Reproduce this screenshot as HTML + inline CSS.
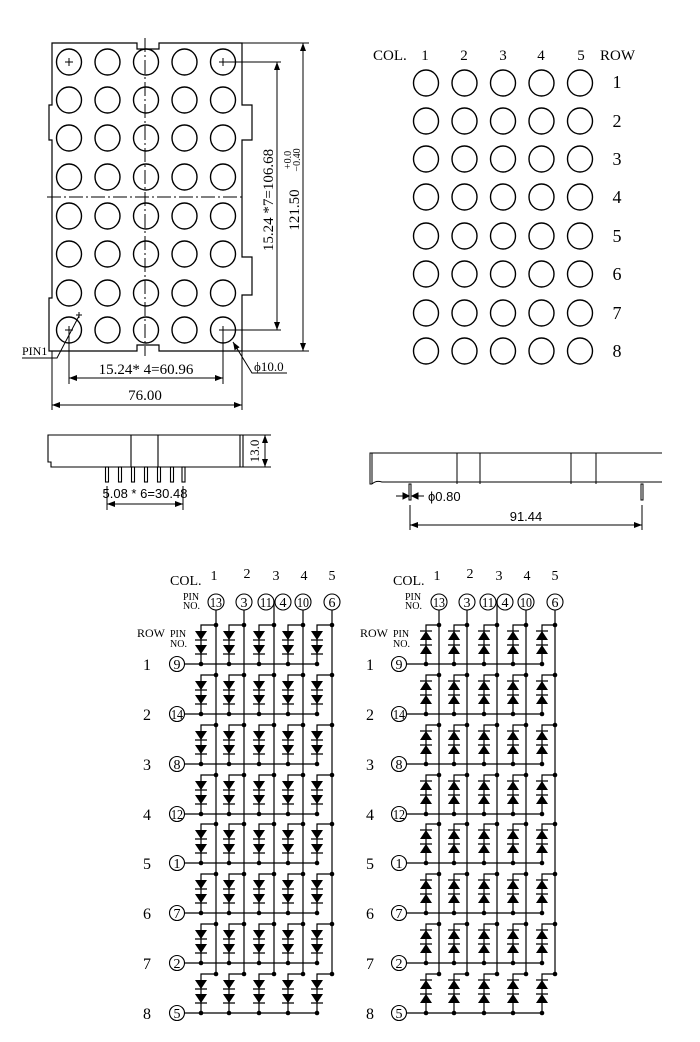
<!DOCTYPE html>
<html><head><meta charset="utf-8"><style>
html,body{margin:0;padding:0;background:#fff;}
svg{display:block;font-family:"Liberation Serif",serif;}
text{fill:#000;}
</style></head><body>
<svg width="700" height="1042" viewBox="0 0 700 1042" xmlns="http://www.w3.org/2000/svg">
<defs>
<marker id="ar" markerWidth="8" markerHeight="6" refX="8" refY="3" orient="auto-start-reverse" markerUnits="userSpaceOnUse"><path d="M0,0 L8,3 L0,6 z" fill="#000"/></marker>
<g id="cl">
<circle cx="0" cy="-39" r="2.3" fill="#000"/>
<path d="M0,-39 H-15 V0" fill="none" stroke="#000" stroke-width="1.2"/>
<path d="M-21,-33 H-9 L-15,-24 z M-21,-19 H-9 L-15,-10 z" fill="#000"/>
<path d="M-21,-24 H-9 M-21,-10 H-9" stroke="#000" stroke-width="1.2"/>
<circle cx="-15" cy="0" r="2.3" fill="#000"/>
</g>
<g id="cr">
<circle cx="0" cy="-39" r="2.3" fill="#000"/>
<path d="M0,-39 H-13 V0" fill="none" stroke="#000" stroke-width="1.2"/>
<path d="M-19,-24 H-7 L-13,-33 z M-19,-10 H-7 L-13,-19 z" fill="#000"/>
<path d="M-19,-33 H-7 M-19,-19 H-7" stroke="#000" stroke-width="1.2"/>
<circle cx="-13" cy="0" r="2.3" fill="#000"/>
</g>
<g id="rowL"><use href="#cl" x="216"/><use href="#cl" x="244"/><use href="#cl" x="274"/><use href="#cl" x="303"/><use href="#cl" x="332"/><line x1="184" y1="0" x2="319" y2="0" stroke="#000" stroke-width="1.2"/></g>
<g id="rowR"><use href="#cr" x="439"/><use href="#cr" x="467"/><use href="#cr" x="497"/><use href="#cr" x="526"/><use href="#cr" x="555"/><line x1="406" y1="0" x2="544" y2="0" stroke="#000" stroke-width="1.2"/></g>
<g id="c5"><ellipse cx="0" cy="0" rx="12.5" ry="13" fill="none" stroke="#000" stroke-width="1.4"/></g>
<g id="r5"><use href="#c5" x="0"/><use href="#c5" x="38.5"/><use href="#c5" x="77"/><use href="#c5" x="115.5"/><use href="#c5" x="154"/></g>
</defs>

<!-- Top left front view -->
<g fill="none" stroke="#000" stroke-width="1.2">
<path d="M52,43 H137 V49 H159 V43 H242 V105 H252 V140 H242 V257 H252 V295 H242 V351 H159 V345 H137 V351 H49 V298 H52 V140 H49 V105 H52 Z"/>
</g>
<g stroke="#000" stroke-width="1" stroke-dasharray="14,3,2,3">
<line x1="145" y1="38" x2="145" y2="356"/>
<line x1="47" y1="197" x2="245" y2="197"/>
</g>
<use href="#r5" x="69" y="62"/><use href="#r5" x="69" y="100"/><use href="#r5" x="69" y="138"/><use href="#r5" x="69" y="177"/>
<use href="#r5" x="69" y="216"/><use href="#r5" x="69" y="254"/><use href="#r5" x="69" y="293"/><use href="#r5" x="69" y="330"/>
<g stroke="#000" stroke-width="1">
<path d="M65,62 h8 M69,58 v8 M219,62 h8 M223,58 v8 M65,330 h8 M69,326 v8 M219,330 h8 M223,326 v8 M76,315 h6 M79,312 v6"/>
<path d="M223,62 H281 M223,330 H281 M242,43 H309 M242,351 H309" fill="none"/>
<line x1="277" y1="62" x2="277" y2="330" marker-start="url(#ar)" marker-end="url(#ar)"/>
<line x1="303" y1="43" x2="303" y2="351" marker-start="url(#ar)" marker-end="url(#ar)"/>
<path d="M69,330 V384 M223,330 V384 M52,351 V410 M242,351 V410" fill="none"/>
<line x1="69" y1="378" x2="223" y2="378" marker-start="url(#ar)" marker-end="url(#ar)"/>
<line x1="52" y1="405" x2="242" y2="405" marker-start="url(#ar)" marker-end="url(#ar)"/>
<path d="M22,358 H57 L79,316" fill="none"/>
<path d="M287,373 H252 L233,342" fill="none" marker-end="url(#ar)"/>
</g>
<text x="0" y="0" font-size="15" transform="translate(273,200) rotate(-90)" text-anchor="middle">15.24 *7=106.68</text>
<text x="0" y="0" font-size="15" transform="translate(299,210) rotate(-90)" text-anchor="middle">121.50</text>
<text x="0" y="0" font-size="10" transform="translate(291,160) rotate(-90)" text-anchor="middle">+0.0</text>
<text x="0" y="0" font-size="10" transform="translate(300,160) rotate(-90)" text-anchor="middle">−0.40</text>
<text x="146" y="374" font-size="15" text-anchor="middle">15.24* 4=60.96</text>
<text x="145" y="400" font-size="15" text-anchor="middle">76.00</text>
<text x="22" y="355" font-size="12">PIN1</text>
<text x="254" y="371" font-size="13">ϕ10.0</text>

<!-- Top right -->
<g font-size="15">
<text x="373" y="60">COL.</text>
<text x="425" y="60" text-anchor="middle">1</text><text x="464" y="60" text-anchor="middle">2</text><text x="503" y="60" text-anchor="middle">3</text><text x="541" y="60" text-anchor="middle">4</text><text x="581" y="60" text-anchor="middle">5</text>
<text x="600" y="60">ROW</text>
</g>
<use href="#r5" x="426" y="83"/><use href="#r5" x="426" y="121"/><use href="#r5" x="426" y="159"/><use href="#r5" x="426" y="197"/>
<use href="#r5" x="426" y="236"/><use href="#r5" x="426" y="274"/><use href="#r5" x="426" y="313"/><use href="#r5" x="426" y="351"/>
<g font-size="18" text-anchor="middle">
<text x="617" y="88">1</text><text x="617" y="127">2</text><text x="617" y="165">3</text><text x="617" y="203">4</text>
<text x="617" y="242">5</text><text x="617" y="280">6</text><text x="617" y="319">7</text><text x="617" y="357">8</text>
</g>

<!-- Side view 1 -->
<g fill="none" stroke="#000" stroke-width="1.1">
<path d="M48,435 H243 V467 H51 V462 H48 Z"/>
<path d="M131,435 V467 M158,435 V467 M240,435 V467"/>
<rect x="105.5" y="467" width="3" height="15"/><rect x="118.5" y="467" width="3" height="15"/><rect x="131.5" y="467" width="3" height="15"/><rect x="144.5" y="467" width="3" height="15"/><rect x="157.5" y="467" width="3" height="15"/><rect x="170.5" y="467" width="3" height="15"/><rect x="182" y="467" width="3" height="15"/>
</g>
<g stroke="#000" stroke-width="1">
<path d="M243,435 H271 M243,467 H271 M107,486 V510 M183,486 V510" fill="none"/>
<line x1="265" y1="435" x2="265" y2="467" marker-start="url(#ar)" marker-end="url(#ar)"/>
<line x1="107" y1="504" x2="183" y2="504" marker-start="url(#ar)" marker-end="url(#ar)"/>
</g>
<text x="0" y="0" font-size="13" transform="translate(259,451) rotate(-90)" text-anchor="middle">13.0</text>
<text x="145" y="498" font-size="13" font-family="Liberation Sans,sans-serif" text-anchor="middle">5.08 * 6=30.48</text>

<!-- Side view 2 -->
<g fill="none" stroke="#000" stroke-width="1">
<path d="M662,453 H370 V484 H372 M372,453 V484 M372,484 Q376,480 382,482 H662"/>
<path d="M457,453 V484 M480,453 V484 M571,453 V484 M596,453 V484"/>
<rect x="409" y="484" width="2" height="16"/><rect x="641" y="484" width="2" height="16"/>
</g>
<g stroke="#000" stroke-width="1">
<path d="M410,505 V530 M642,505 V530 M396,496 H409 M412,496 H424" fill="none"/>
<path d="M403,493 L409,496 L403,499 z M418,493 L412,496 L418,499 z" fill="#000"/>
<line x1="410" y1="525" x2="642" y2="525" marker-start="url(#ar)" marker-end="url(#ar)"/>
</g>
<text x="428" y="501" font-size="13" font-family="Liberation Sans,sans-serif">ϕ0.80</text>
<text x="526" y="521" font-size="13" font-family="Liberation Sans,sans-serif" text-anchor="middle">91.44</text>

<!-- Schematic left -->
<g font-size="14">
<text x="170" y="585">COL.</text>
<text x="214" y="580" text-anchor="middle">1</text><text x="247" y="578" text-anchor="middle">2</text><text x="276" y="580" text-anchor="middle">3</text><text x="304" y="580" text-anchor="middle">4</text><text x="332" y="580" text-anchor="middle">5</text>
<text x="137" y="637" font-size="12">ROW</text>
</g>
<g font-size="10"><text x="183" y="600">PIN</text><text x="183" y="609">NO.</text><text x="170" y="637">PIN</text><text x="170" y="647">NO.</text></g>
<g fill="none" stroke="#000" stroke-width="1.1">
<circle cx="216" cy="602" r="8"/><circle cx="244" cy="602" r="8"/><circle cx="266" cy="602" r="8"/><circle cx="283" cy="602" r="8"/><circle cx="303" cy="602" r="8"/><circle cx="332" cy="602" r="8"/>
<path d="M216,610 V974 M244,610 V974 M274,601 V974 M303,610 V974 M332,610 V974" stroke-width="1.2"/>
<circle cx="177" cy="664" r="7.5"/><circle cx="177" cy="714" r="7.5"/><circle cx="177" cy="764" r="7.5"/><circle cx="177" cy="814" r="7.5"/><circle cx="177" cy="863" r="7.5"/><circle cx="177" cy="913" r="7.5"/><circle cx="177" cy="963" r="7.5"/><circle cx="177" cy="1013" r="7.5"/>
</g>
<g font-size="14" text-anchor="middle">
<text x="216" y="607" textLength="12" lengthAdjust="spacingAndGlyphs">13</text><text x="244" y="607">3</text><text x="266" y="607" textLength="12" lengthAdjust="spacingAndGlyphs">11</text><text x="283" y="607">4</text><text x="303" y="607" textLength="12" lengthAdjust="spacingAndGlyphs">10</text><text x="332" y="607">6</text>
<text x="177" y="669">9</text><text x="177" y="719" textLength="12" lengthAdjust="spacingAndGlyphs">14</text><text x="177" y="769">8</text><text x="177" y="819" textLength="12" lengthAdjust="spacingAndGlyphs">12</text><text x="177" y="868">1</text><text x="177" y="918">7</text><text x="177" y="968">2</text><text x="177" y="1018">5</text>
</g>
<g font-size="16" text-anchor="middle">
<text x="147" y="670">1</text><text x="147" y="720">2</text><text x="147" y="770">3</text><text x="147" y="820">4</text><text x="147" y="869">5</text><text x="147" y="919">6</text><text x="147" y="969">7</text><text x="147" y="1019">8</text>
</g>
<use href="#rowL" y="664"/><use href="#rowL" y="714"/><use href="#rowL" y="764"/><use href="#rowL" y="814"/><use href="#rowL" y="863"/><use href="#rowL" y="913"/><use href="#rowL" y="963"/><use href="#rowL" y="1013"/>

<!-- Schematic right -->
<g font-size="14">
<text x="393" y="585">COL.</text>
<text x="437" y="580" text-anchor="middle">1</text><text x="470" y="578" text-anchor="middle">2</text><text x="499" y="580" text-anchor="middle">3</text><text x="527" y="580" text-anchor="middle">4</text><text x="555" y="580" text-anchor="middle">5</text>
<text x="360" y="637" font-size="12">ROW</text>
</g>
<g font-size="10"><text x="405" y="600">PIN</text><text x="405" y="609">NO.</text><text x="393" y="637">PIN</text><text x="393" y="647">NO.</text></g>
<g fill="none" stroke="#000" stroke-width="1.1">
<circle cx="439" cy="602" r="8"/><circle cx="467" cy="602" r="8"/><circle cx="488" cy="602" r="8"/><circle cx="505" cy="602" r="8"/><circle cx="526" cy="602" r="8"/><circle cx="555" cy="602" r="8"/>
<path d="M439,610 V974 M467,610 V974 M497,601 V974 M526,610 V974 M555,610 V974" stroke-width="1.2"/>
<circle cx="399" cy="664" r="7.5"/><circle cx="399" cy="714" r="7.5"/><circle cx="399" cy="764" r="7.5"/><circle cx="399" cy="814" r="7.5"/><circle cx="399" cy="863" r="7.5"/><circle cx="399" cy="913" r="7.5"/><circle cx="399" cy="963" r="7.5"/><circle cx="399" cy="1013" r="7.5"/>
</g>
<g font-size="14" text-anchor="middle">
<text x="439" y="607" textLength="12" lengthAdjust="spacingAndGlyphs">13</text><text x="467" y="607">3</text><text x="488" y="607" textLength="12" lengthAdjust="spacingAndGlyphs">11</text><text x="505" y="607">4</text><text x="526" y="607" textLength="12" lengthAdjust="spacingAndGlyphs">10</text><text x="555" y="607">6</text>
<text x="399" y="669">9</text><text x="399" y="719" textLength="12" lengthAdjust="spacingAndGlyphs">14</text><text x="399" y="769">8</text><text x="399" y="819" textLength="12" lengthAdjust="spacingAndGlyphs">12</text><text x="399" y="868">1</text><text x="399" y="918">7</text><text x="399" y="968">2</text><text x="399" y="1018">5</text>
</g>
<g font-size="16" text-anchor="middle">
<text x="370" y="670">1</text><text x="370" y="720">2</text><text x="370" y="770">3</text><text x="370" y="820">4</text><text x="370" y="869">5</text><text x="370" y="919">6</text><text x="370" y="969">7</text><text x="370" y="1019">8</text>
</g>
<use href="#rowR" y="664"/><use href="#rowR" y="714"/><use href="#rowR" y="764"/><use href="#rowR" y="814"/><use href="#rowR" y="863"/><use href="#rowR" y="913"/><use href="#rowR" y="963"/><use href="#rowR" y="1013"/>
</svg>
</body></html>
